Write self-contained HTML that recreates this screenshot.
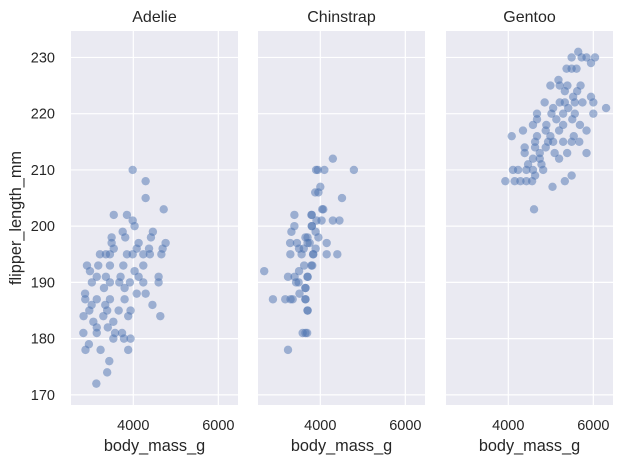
<!DOCTYPE html>
<html><head><meta charset="utf-8"><style>
html,body{margin:0;padding:0;background:#fff;}
svg{display:block;font-family:"Liberation Sans","DejaVu Sans",sans-serif;}
</style></head><body>
<svg id="chart" width="623" height="464" viewBox="0 0 623 464"></svg>
<script>
const species = ["Adelie","Chinstrap","Gentoo"];
const adelieMass = [3985,4290,4290,4715,3540,3850,3985,4030,3750,4460,3490,3810,4415,4760,3490,4125,3540,4080,4370,4690,3215,3355,3450,3850,3985,4235,4390,4660,2910,3175,3450,3765,4235,2980,4030,3140,3355,3700,4125,4595,3025,3450,3670,3920,4235,4595,3310,3795,2865,4080,4290,2870,3140,3450,3795,3020,3340,4450,2965,3385,3655,3935,2830,3295,3880,4635,3060,3530,3140,3400,2825,3140,3570,3735,3530,3780,3935,2955,2875,3230,3880,3435,3385,3130];
const adelieFlipper = [210,208,205,203,202,202,201,200,199,199,198,198,198,197,197,197,196,196,196,196,195,195,195,195,195,195,195,195,193,193,193,193,193,192,192,191,191,191,191,191,190,190,190,190,190,190,189,189,188,188,188,187,187,187,187,186,186,186,185,185,185,185,184,184,184,184,183,183,182,182,181,181,181,181,180,180,180,179,178,178,178,176,174,172];
const chinMass = [2680,2885,3175,3300,3350,3240,3240,3295,3290,3320,3390,3390,3395,3430,3510,3490,3500,3450,3500,3585,3690,3700,3650,3650,3700,3560,3610,3650,3700,3790,3800,3790,3830,3620,3880,3900,3910,3940,4095,4295,4790,4000,3955,4510,4045,4070,4030,4295,4450,3800,3800,3890,3700,3955,3750,4150,3890,4150,4400,3835,3810,3700,3650,3650,3700,3650];
const chinFlipper = [192,187,187,187,187,178,191,195,197,199,200,202,191,190,188,190,192,197,196,181,181,185,187,189,191,195,196,198,197,202,200,193,195,193,206,210,201,210,210,212,210,207,206,205,203,203,201,201,201,202,200,199,198,198,197,197,196,195,195,195,193,191,189,187,185,181];
const gentooMass = [5645,5490,5725,5840,6040,5945,5370,5490,5605,5180,4990,5210,5390,5700,5330,5620,5525,5945,4855,5210,5330,5565,5745,6000,6300,5055,5410,4675,5015,5290,5565,6000,4675,5130,5505,4580,4895,5290,5685,4345,4880,5195,5840,4080,4675,4990,5540,4630,4935,5055,5290,5490,5670,4385,4630,4880,4385,4740,5090,5385,5840,4580,4740,5195,4465,4780,4110,4230,4425,4580,4820,4630,5490,3930,4150,4285,4425,4560,5040,5330,4605];
const gentooFlipper = [231,230,230,230,230,229,228,228,228,226,225,225,225,225,224,224,223,223,222,222,222,222,222,222,221,221,221,220,220,220,220,220,219,219,219,218,218,218,218,217,217,217,217,216,216,216,216,215,215,215,215,215,215,214,214,214,213,213,213,213,213,212,212,212,211,211,210,210,210,210,210,209,209,208,208,208,208,208,207,208,203];
const xTicks = [4000,6000];
const yTicks = [170,180,190,200,210,220,230];
const seriesMass = [adelieMass, chinMass, gentooMass];
const seriesFlip = [adelieFlipper, chinFlipper, gentooFlipper];

const NS = "http://www.w3.org/2000/svg";
const svg = document.getElementById("chart");
const panels = [71, 258, 446];
const pw = 167, topY = 31, bottomY = 405;
const xMin = 2534, xMax = 6463, yMin = 168.2, yMax = 234.7;
function xs(v, p){ return panels[p] + (v - xMin) / (xMax - xMin) * pw; }
function ys(v){ return bottomY - (v - yMin) / (yMax - yMin) * (bottomY - topY); }
function mk(tag, attrs, parent){ const e = document.createElementNS(NS, tag); for (const k in attrs) e.setAttribute(k, attrs[k]); (parent||svg).appendChild(e); return e; }

species.forEach((sp, p) => {
  const g = mk("g", {});
  
  
  const bg = mk("rect", {x: panels[p], y: topY, width: pw, height: bottomY - topY, fill: "#eaeaf2"}, g);
  
  
  yTicks.forEach(t => {
    const l = mk("line", {x1: panels[p], x2: panels[p] + pw, y1: ys(t), y2: ys(t), stroke: "#fff", "stroke-width": 1.2}, g);
    
    
  });
  xTicks.forEach(t => {
    const l = mk("line", {x1: xs(t, p), x2: xs(t, p), y1: topY, y2: bottomY, stroke: "#fff", "stroke-width": 1.2}, g);
    
    
    const tx = mk("text", {x: xs(t, p), y: 430, "text-anchor": "middle", "font-size": 14.5, fill: "#262626"}, g);
    tx.textContent = t;
    
    
  });
  const title = mk("text", {x: panels[p] + pw / 2, y: 22, "text-anchor": "middle", "font-size": 16, fill: "#262626"}, g);
  title.textContent = sp;
  
  
  const xl = mk("text", {x: panels[p] + pw / 2, y: 451, "text-anchor": "middle", "font-size": 16.3, fill: "#262626"}, g);
  xl.textContent = "body_mass_g";
  
  
  const mass = seriesMass[p], flip = seriesFlip[p];
  for (let i = 0; i < mass.length; i++) {
    const c = mk("circle", {cx: xs(mass[i], p), cy: ys(flip[i]), r: 4.2, fill: "#4c72b0", "fill-opacity": 0.5}, g);
    
    
  }
});
yTicks.forEach(t => {
  const tx = mk("text", {x: 55, y: ys(t) + 5, "text-anchor": "end", "font-size": 14.5, fill: "#262626"});
  tx.textContent = t;
  
  
});
const yl = mk("text", {x: 0, y: 0, transform: "translate(21," + ((topY + bottomY) / 2) + ") rotate(-90)", "text-anchor": "middle", "font-size": 16.3, fill: "#262626"});
yl.textContent = "flipper_length_mm";


</script>
</body></html>
